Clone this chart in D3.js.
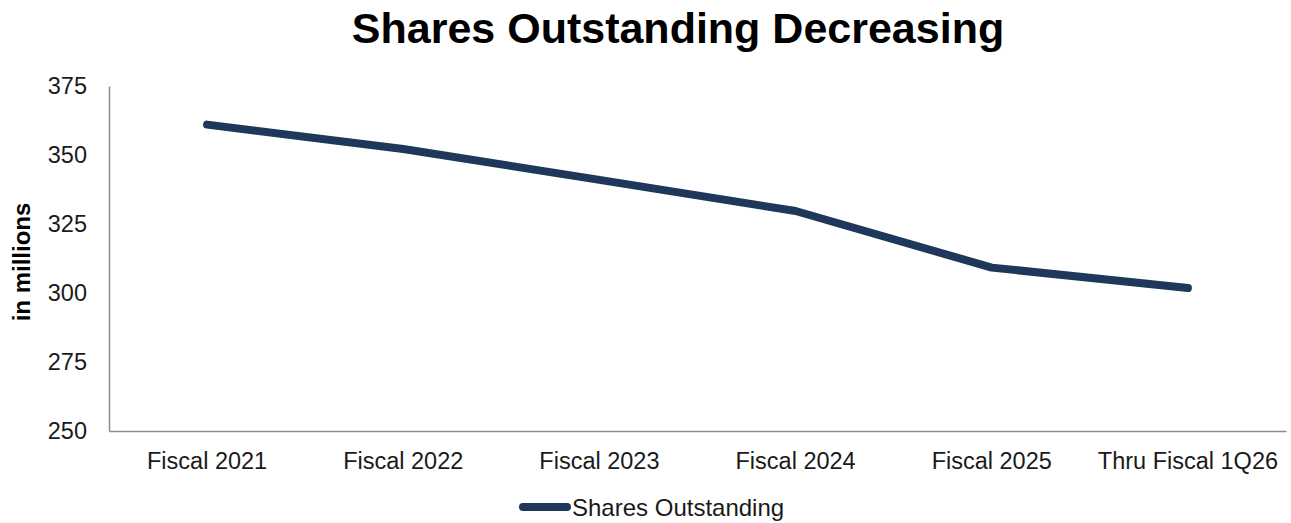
<!DOCTYPE html>
<html>
<head>
<meta charset="utf-8">
<script src="https://cdn.jsdelivr.net/npm/d3@7"></script>
<style>
  body { margin: 0; background: #fff; }
  svg { font-family: "Liberation Sans", Arial, sans-serif; }
  .axis path { stroke: #8c8c8c; stroke-width: 1.5; }
  .axis .tick line { display: none; }
  .axis .tick text { fill: #1a1a1a; font-size: 23.5px; }
</style>
</head>
<body>
<svg id="chart"></svg>
<script>
// Data
const categories = ["Fiscal 2021", "Fiscal 2022", "Fiscal 2023", "Fiscal 2024", "Fiscal 2025", "Thru Fiscal 1Q26"];
const sharesOutstanding = [361, 352.2, 341, 329.7, 309.2, 301.8];
const yTicks = [250, 275, 300, 325, 350, 375];

const width = 1291, height = 523;
const margin = { top: 86, right: 5, bottom: 92, left: 109 };

const svg = d3.select('#chart')
    .attr('width', width)
    .attr('height', height);

const innerW = width - margin.left - margin.right;
const innerH = height - margin.top - margin.bottom;

const chart = svg.append('g')
    .attr('transform', `translate(${margin.left},${margin.top})`);

const xScale = d3.scaleBand()
    .domain(categories)
    .range([0, innerW]);

const yScale = d3.scaleLinear()
    .domain([250, 375])
    .range([innerH, 0]);

// Axes
const xAxisG = chart.append('g')
    .attr('class', 'axis x-axis')
    .attr('transform', `translate(0,${innerH})`)
    .call(d3.axisBottom(xScale).tickSize(0).tickSizeOuter(0).tickPadding(21));

const yAxisG = chart.append('g')
    .attr('class', 'axis y-axis')
    .call(d3.axisLeft(yScale).tickValues(yTicks).tickSize(0).tickSizeOuter(0).tickPadding(22));

// Line
const line = d3.line()
    .x((d, i) => xScale(categories[i]) + xScale.bandwidth() / 2)
    .y(d => yScale(d));

chart.append('path')
    .datum(sharesOutstanding)
    .attr('fill', 'none')
    .attr('stroke', '#1f375a')
    .attr('stroke-width', 8)
    .attr('stroke-linecap', 'round')
    .attr('stroke-linejoin', 'round')
    .attr('d', line);

// Title
svg.append('text')
    .attr('x', 678)
    .attr('y', 43)
    .attr('text-anchor', 'middle')
    .attr('font-size', 43)
    .attr('font-weight', 'bold')
    .attr('fill', '#000')
    .text('Shares Outstanding Decreasing');

// Y axis label
svg.append('text')
    .attr('transform', 'translate(30,262) rotate(-90)')
    .attr('text-anchor', 'middle')
    .attr('font-size', 24)
    .attr('font-weight', 'bold')
    .attr('fill', '#000')
    .text('in millions');

// Legend
const legend = svg.append('g').attr('transform', 'translate(519,507)');
legend.append('line')
    .attr('x1', 4).attr('x2', 48)
    .attr('y1', 0).attr('y2', 0)
    .attr('stroke', '#1f375a')
    .attr('stroke-width', 8)
    .attr('stroke-linecap', 'round');
legend.append('text')
    .attr('x', 53)
    .attr('y', 9)
    .attr('font-size', 24)
    .attr('fill', '#1a1a1a')
    .text('Shares Outstanding');
</script>
</body>
</html>
